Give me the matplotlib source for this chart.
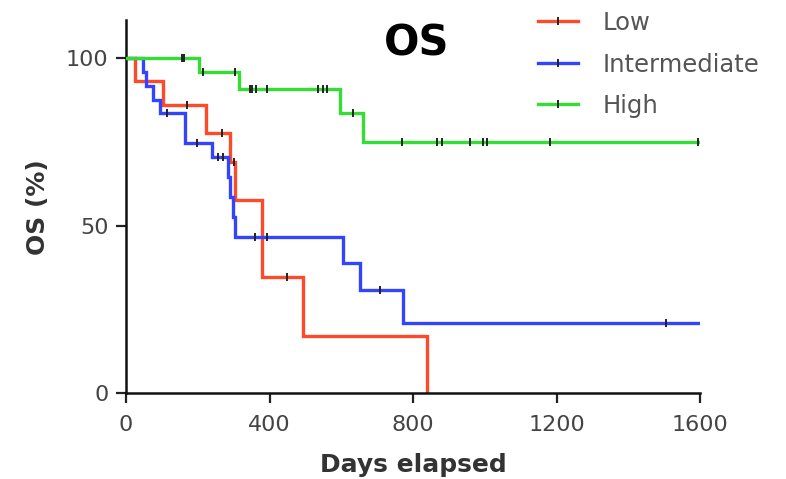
import matplotlib
matplotlib.use("Agg")
import matplotlib.pyplot as plt
from matplotlib.lines import Line2D

# ---- data ----
groups = ["Low", "Intermediate", "High"]
colors = ["#ff4a2a", "#3344ff", "#33dd33"]

low_t = [0, 25, 104, 222, 290, 305, 378, 494, 838]
low_s = [100, 93, 86, 77.5, 69, 57.6, 34.7, 17, 0]
low_cens_t = [169, 267, 300, 448]
low_cens_s = [86, 77.5, 69, 34.7]

int_t = [0, 48, 55, 76, 96, 164, 239, 283, 290, 297, 303, 605, 652, 773, 1600]
int_s = [100, 95.8, 91.7, 87.5, 83.5, 74.5, 70.5, 64.5, 58.5, 52.5, 46.7, 38.7, 30.7, 20.8, 20.8]
int_cens_t = [113, 197, 257, 270, 359, 392, 708, 1506]
int_cens_s = [83.5, 74.5, 70.5, 70.5, 46.7, 46.7, 30.7, 20.8]

high_t = [0, 204, 316, 596, 661, 1600]
high_s = [100, 95.9, 90.6, 83.5, 75, 75]
high_cens_t = [155, 163, 215, 303, 345, 352, 362, 393, 535, 548, 560, 633,
               768, 866, 880, 958, 994, 1006, 1181, 1594]
high_cens_s = [100, 100, 95.9, 95.9, 90.6, 90.6, 90.6, 90.6, 90.6, 90.6, 90.6, 83.5,
               75, 75, 75, 75, 75, 75, 75, 75]

x_ticks = [0, 400, 800, 1200, 1600]
y_ticks = [0, 50, 100]

# ---- figure ----
W, H = 786, 479
fig = plt.figure(figsize=(W / 100, H / 100), dpi=100)
ax = fig.add_axes([126 / W, 1 - 393 / H, (700 - 126) / W, (393 - 20) / H])

series = [
    (low_t, low_s, low_cens_t, low_cens_s),
    (int_t, int_s, int_cens_t, int_cens_s),
    (high_t, high_s, high_cens_t, high_cens_s),
]
order = [2, 0, 1]
for i in order:
    t, s, ct, cs = series[i]
    ax.step(t, s, where="post", color=colors[i], lw=2.4, zorder=2 + i,
            solid_joinstyle="miter")
for i in order:
    t, s, ct, cs = series[i]
    ax.plot(ct, cs, ls="none", marker="|", ms=6, mew=1.4, color="#222222", zorder=6)

ax.set_xlim(0, 1600)
ax.set_ylim(0, 100 * 373 / 335)
ax.set_xticks(x_ticks)
ax.set_yticks(y_ticks)
ax.set_xticklabels([str(v) for v in x_ticks])
ax.set_yticklabels([str(v) for v in y_ticks])

for sp in ["top", "right"]:
    ax.spines[sp].set_visible(False)
for sp in ["left", "bottom"]:
    ax.spines[sp].set_linewidth(1.8)
    ax.spines[sp].set_color("#111111")

ax.tick_params(axis="both", direction="out", length=7.5, width=1.6, color="#222222",
               labelsize=16, labelcolor="#444444")
ax.tick_params(axis="x", pad=8)
ax.tick_params(axis="y", pad=5)

# labels and title
fig.text(38 / W, 1 - 207 / H, "OS (%)", rotation=90, ha="center", va="center",
         fontsize=18, fontweight="bold", color="#333333")
fig.text(413 / W, 1 - 465 / H, "Days elapsed", ha="center", va="center",
         fontsize=18, fontweight="bold", color="#333333")
fig.text(417 / W, 1 - 43 / H, "OS", ha="center", va="center",
         fontsize=30, fontweight="bold", color="black")

# legend
handles = [Line2D([], [], color=colors[i], lw=2.4, marker="|", ms=6, mew=1.4,
                  markeredgecolor="#222222") for i in range(3)]
leg = fig.legend(handles, groups, loc="upper left",
                 bbox_to_anchor=(538 / W, 1 - 11 / H), frameon=False,
                 fontsize=17.5, handlelength=1.65, handletextpad=1.0,
                 labelspacing=0.72, borderpad=0, borderaxespad=0, numpoints=1)
for txt in leg.get_texts():
    txt.set_color("#555555")

fig.savefig("out.png", dpi=100)
